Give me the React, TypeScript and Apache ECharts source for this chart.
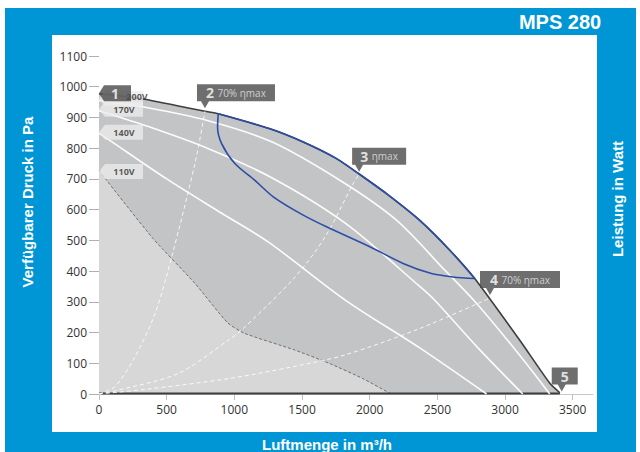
import React, { useEffect, useRef } from "react";
import * as echarts from "echarts";

// ---------- data ----------
const xTicks = [0, 500, 1000, 1500, 2000, 2500, 3000, 3500];
const yTicks = [0, 100, 200, 300, 400, 500, 600, 700, 800, 900, 1000, 1100];

// maximum characteristic (outer envelope)
const outerCurve = [
  [0, 977], [315, 961], [783, 920], [881, 912], [1263, 863], [1509, 820],
  [1755, 766], [1922, 716], [2124, 652], [2370, 565], [2592, 468],
  [2776, 376], [3109, 175], [3331, 35], [3405, 4],
];
const bottomEdge = [[0, 2], [3405, 2]];

// 110V characteristic (lower limit)
const curve110V = [
  [0, 727], [401, 505], [709, 360], [950, 232], [1078, 197], [1447, 143],
  [1700, 100], [1950, 50], [2150, 2],
];

// speed curves
const curve200V = [
  [0, 955], [340, 933], [800, 890], [1280, 820], [1800, 690], [2200, 565],
  [2555, 403], [2769, 305], [3000, 185], [3200, 75], [3330, 0],
];
const curve170V = [
  [0, 922], [340, 874], [800, 800], [1280, 703], [1822, 555], [2370, 350],
  [2481, 305], [2800, 150], [3131, 0],
];
const curve140V = [
  [0, 848], [44, 836], [500, 700], [900, 590], [1250, 495], [1822, 305],
  [2370, 150], [2864, 0],
];

// system curves (dashed)
const systemA = [[0, 0], [120, 25], [266, 121], [414, 262], [537, 446], [709, 750], [783, 920]];
const systemB = [[0, 0], [118, 10], [586, 67], [955, 175], [1053, 208], [1447, 380], [1669, 510], [1878, 685], [1922, 716]];
const systemC = [[0, 0], [340, 15], [955, 50], [1447, 90], [1816, 127], [2370, 213], [2887, 312]];

// efficiency zone (lower border); upper border follows outer curve
const effLower = [
  [2776, 376], [2616, 381], [2450, 393], [2247, 425], [2001, 479], [1681, 544],
  [1509, 582], [1290, 641], [1152, 695], [1004, 750], [906, 815], [876, 868], [881, 912],
];
const effFrom = 881;
const effTo = 2776;

// voltage tags
const voltageNames = ["200V", "170V", "140V", "110V"];
const voltageY = [962, 927, 852, 724];

// operating point callouts
const pointIds = ["1", "2", "3", "4", "5"];
const pointNotes = ["", "70% ηmax", "ηmax", "70% ηmax", ""];
const pointX = [0, 783, 1922, 2889, 3419];
const pointY = [979, 930, 723, 322, 8];

// ---------- component ----------
const FONT = "'Open Sans', 'Noto Sans', sans-serif";
const BOLD = "'Liberation Sans', Arial, sans-serif";

function downTag(w: number, h: number, p: number, t: number) {
  return `path://M0,0 H${w} V${h} H${t + 4} L${t},${h + p} L${t - 4},${h} H0 Z`;
}
function leftTag(w: number, h: number, p: number) {
  return `path://M0,${h / 2} L${p},0 H${w} V${h} H${p} Z`;
}

export default function App() {
  const ref = useRef<HTMLDivElement>(null);

  useEffect(() => {
    if (!ref.current) return;
    const chart = echarts.init(ref.current, undefined, { renderer: "svg" });

    const effUpper = outerCurve.filter((d) => d[0] >= effFrom && d[0] <= effTo);

    const calloutW = [32, 78, 54, 80, 26];
    const calloutTip = [0, 8, 7, 10, 10];
    const ch = 17;
    const cp = 7;
    const calloutData = pointIds.map((id, i) => {
      const w = calloutW[i];
      if (i === 0) {
        return {
          value: [pointX[i], pointY[i]],
          symbol: leftTag(w, 16, 5),
          symbolSize: [w, 16],
          symbolOffset: [w / 2, 0],
          label: { offset: [0, 0] },
        };
      }
      const t = calloutTip[i];
      return {
        value: [pointX[i], pointY[i]],
        symbol: downTag(w, ch, cp, t),
        symbolSize: [w, ch + cp],
        symbolOffset: [w / 2 - t, -(ch + cp) / 2],
        label: { offset: [0, -cp / 2] },
      };
    });

    const tagW = 44;
    const tagH = 15;
    const tagP = 6;
    const tagData = voltageNames.map((n, i) => ({
      value: [0, voltageY[i]],
      symbol: leftTag(tagW, tagH, tagP),
      symbolSize: [tagW, tagH],
      symbolOffset: [tagW / 2, 0],
      // first tag sits mostly behind callout "1": its text is pushed right/up
      label: i === 0 ? { offset: [tagP / 2 + 13, -2] } : { offset: [tagP / 2, 0] },
    }));

    const lineBase = {
      type: "line" as const,
      showSymbol: false,
      symbol: "none",
      silent: true,
      clip: false,
    };
    const whiteLine = { color: "rgba(255,255,255,0.95)", width: 1.6 };
    const dashLine = { color: "rgba(255,255,255,0.85)", width: 1, type: [4, 3] };
    const plain = (v: number) => String(v);

    chart.setOption({
      animation: false,
      grid: { left: 99, right: 47, top: 56, bottom: 58 },
      xAxis: {
        type: "value",
        min: 0,
        max: 3650,
        interval: 500,
        axisLine: { show: true, lineStyle: { color: "#c8c8c8", width: 1 } },
        axisTick: { show: true, length: 6, lineStyle: { color: "#c0c0c0" }, customValues: xTicks },
        axisLabel: { color: "#333", fontSize: 12, fontFamily: FONT, margin: 9, customValues: xTicks, formatter: plain },
        splitLine: { show: false },
      },
      yAxis: {
        type: "value",
        min: 0,
        max: 1100,
        interval: 100,
        axisLine: { show: false },
        axisTick: { show: true, length: 10, lineStyle: { color: "#b0b0b0" }, customValues: yTicks },
        axisLabel: { color: "#333", fontSize: 12, fontFamily: FONT, margin: 12, customValues: yTicks, formatter: plain },
        splitLine: { show: false },
      },
      graphic: {
        elements: [
          { type: "rect", z: -10, silent: true, shape: { x: 5, y: 8, width: 631, height: 444 }, style: { fill: "#0096d6" } },
          { type: "rect", z: -9, silent: true, shape: { x: 52, y: 35, width: 545, height: 397 }, style: { fill: "#ffffff" } },
          {
            type: "text", z: 20, x: 560, y: 22, silent: true,
            style: { text: "MPS 280", fill: "#fff", fontSize: 20, fontWeight: "bold", fontFamily: BOLD, align: "center", verticalAlign: "middle" },
          },
          {
            type: "text", z: 20, x: 27, y: 202, rotation: Math.PI / 2, silent: true,
            style: { text: "Verfügbarer Druck in Pa", fill: "#fff", fontSize: 15, fontWeight: "bold", fontFamily: BOLD, align: "center", verticalAlign: "middle" },
          },
          {
            type: "text", z: 20, x: 617, y: 199, rotation: Math.PI / 2, silent: true,
            style: { text: "Leistung in Watt", fill: "#fff", fontSize: 15, fontWeight: "bold", fontFamily: BOLD, align: "center", verticalAlign: "middle" },
          },
          {
            type: "text", z: 20, x: 327, y: 444, silent: true,
            style: { text: "Luftmenge in m³/h", fill: "#fff", fontSize: 15, fontWeight: "bold", fontFamily: BOLD, align: "center", verticalAlign: "middle" },
          },
        ],
      },
      series: [
        {
          ...lineBase, name: "max", data: outerCurve, smooth: 0.2, z: 2,
          lineStyle: { color: "#3d3d3d", width: 1.6 },
          areaStyle: { color: "#c3c4c6", opacity: 1 },
        },
        {
          ...lineBase, name: "110V", data: curve110V, smooth: 0.2, z: 3,
          lineStyle: { color: "#707070", width: 1, type: [3, 2] },
          areaStyle: { color: "#d7d7d8", opacity: 1 },
        },
        { ...lineBase, name: "bottom", data: bottomEdge, z: 4, lineStyle: { color: "#3d3d3d", width: 2 } },
        { ...lineBase, name: "200V", data: curve200V, smooth: 0.3, z: 4, lineStyle: whiteLine },
        { ...lineBase, name: "170V", data: curve170V, smooth: 0.3, z: 4, lineStyle: whiteLine },
        { ...lineBase, name: "140V", data: curve140V, smooth: 0.3, z: 4, lineStyle: whiteLine },
        { ...lineBase, name: "sysA", data: systemA, smooth: 0.3, z: 4, lineStyle: dashLine },
        { ...lineBase, name: "sysB", data: systemB, smooth: 0.3, z: 4, lineStyle: dashLine },
        { ...lineBase, name: "sysC", data: systemC, smooth: 0.3, z: 4, lineStyle: dashLine },
        { ...lineBase, name: "effUpper", data: effUpper, smooth: 0.2, z: 6, lineStyle: { color: "#2d4ea6", width: 1.6 } },
        { ...lineBase, name: "effLower", data: effLower, smooth: 0.3, z: 6, lineStyle: { color: "#2d4ea6", width: 1.6 } },
        {
          type: "scatter", name: "tags", silent: true, clip: false, z: 8,
          data: tagData,
          itemStyle: { color: "rgba(236,236,236,0.95)" },
          label: {
            show: true, position: "inside",
            formatter: (prm: any) => voltageNames[prm.dataIndex],
            color: "#333", fontSize: 9, fontWeight: "bold", fontFamily: FONT,
          },
        },
        {
          type: "scatter", name: "points", silent: true, clip: false, z: 9,
          data: calloutData,
          itemStyle: { color: "#4a4a4a" },
          label: {
            show: true, position: "inside",
            formatter: (prm: any) => {
              const i = prm.dataIndex;
              return `{n|${pointIds[i]}}` + (pointNotes[i] ? ` {s|${pointNotes[i]}}` : "");
            },
            rich: {
              n: { color: "#fff", fontSize: 14, fontWeight: "bold", fontFamily: FONT },
              s: { color: "#e6e6e6", fontSize: 10, fontFamily: FONT },
            },
          },
        },
      ],
    });

    return () => chart.dispose();
  }, []);

  return (
    <div
      ref={ref}
      style={{ position: "absolute", left: 0, top: 0, width: 640, height: 452 }}
    />
  );
}
